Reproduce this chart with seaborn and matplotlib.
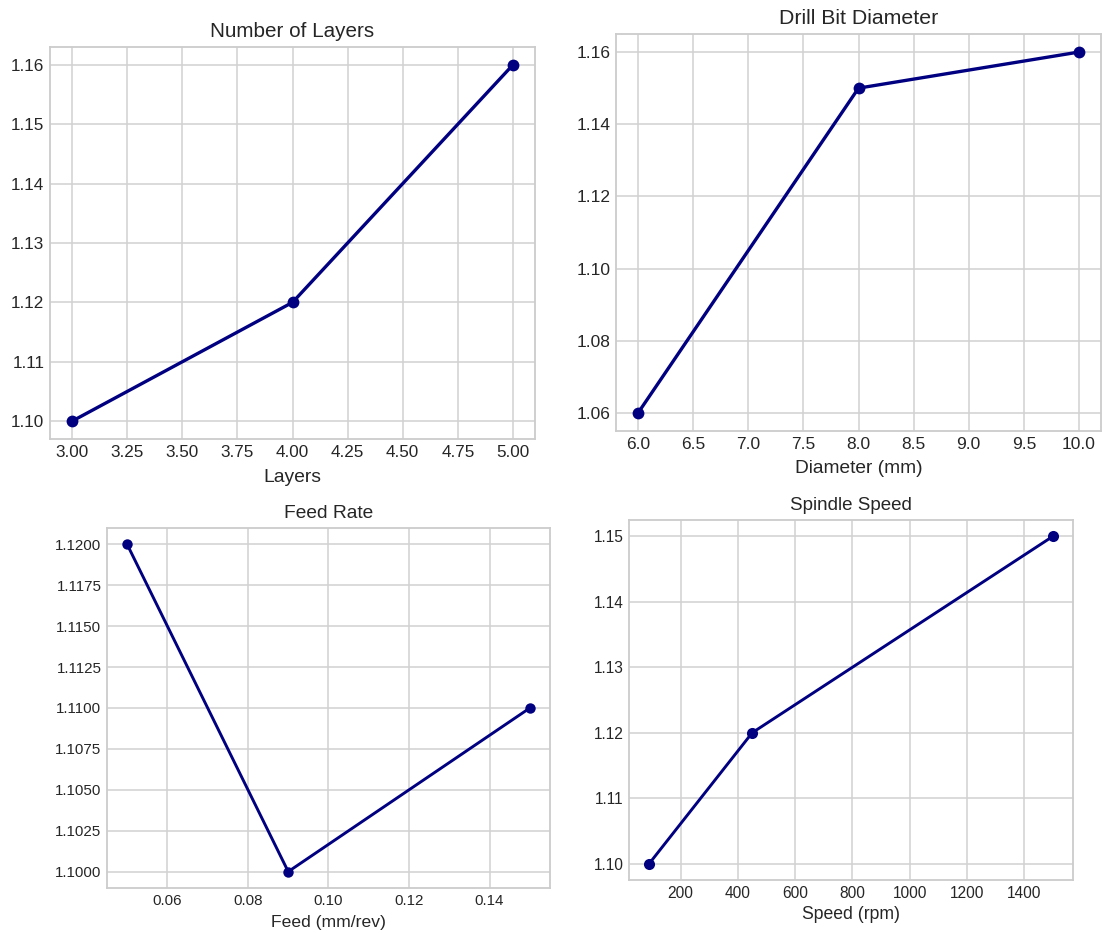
import matplotlib
matplotlib.use("Agg")
import matplotlib.pyplot as plt
from matplotlib.ticker import MultipleLocator, FormatStrFormatter
import seaborn as sns

# Response values for each machining parameter
layers = [3, 4, 5]
layers_resp = [1.10, 1.12, 1.16]

diameter_mm = [6, 8, 10]
diameter_resp = [1.06, 1.15, 1.16]

feed_mm_rev = [0.05, 0.09, 0.15]
feed_resp = [1.12, 1.10, 1.11]

speed_rpm = [90, 450, 1500]
speed_resp = [1.10, 1.12, 1.15]

titles = ["Number of Layers", "Drill Bit Diameter", "Feed Rate", "Spindle Speed"]
xlabels = ["Layers", "Diameter (mm)", "Feed (mm/rev)", "Speed (rpm)"]

sns.set_style("whitegrid", {"axes.edgecolor": ".8", "grid.color": ".8"})
plt.rcParams["font.family"] = ["Liberation Sans", "DejaVu Sans"]
plt.rcParams["text.color"] = ".15"
plt.rcParams["axes.labelcolor"] = ".15"
plt.rcParams["xtick.color"] = ".15"
plt.rcParams["ytick.color"] = ".15"

W, H = 1102, 933
fig = plt.figure(figsize=(W / 100, H / 100), dpi=100)


def add_panel(left, right, top, bottom):
    return fig.add_axes([left / W, 1 - bottom / H, (right - left) / W, (bottom - top) / H])


panels = [
    dict(box=(50, 535, 47, 439), x=layers, y=layers_resp, tick=12.3, title=14.9, label=13.9,
         lw=2.4, ms=8.5, lpad=7, xstep=0.25, xfmt="%.2f", ystep=0.01, yfmt="%.2f"),
    dict(box=(616, 1101, 34, 431), x=diameter_mm, y=diameter_resp, tick=12.5, title=15.3, label=13.8,
         lw=2.4, ms=8.5, lpad=6, xstep=0.5, xfmt="%.1f", ystep=0.02, yfmt="%.2f"),
    dict(box=(107, 550, 528, 888), x=feed_mm_rev, y=feed_resp, tick=10.9, title=13.8, label=12.6,
         lw=2.1, ms=7.5, lpad=5.5, xstep=0.02, xfmt="%.2f", ystep=0.0025, yfmt="%.4f"),
    dict(box=(629, 1073, 520, 880), x=speed_rpm, y=speed_resp, tick=11.2, title=13.5, label=12.7,
         lw=2.1, ms=8, lpad=4, xstep=200, xfmt="%d", ystep=0.01, yfmt="%.2f"),
]

for p, title, xlabel in zip(panels, titles, xlabels):
    ax = add_panel(*p["box"])
    sns.lineplot(x=p["x"], y=p["y"], ax=ax, color="navy", marker="o",
                 linewidth=p["lw"], markersize=p["ms"],
                 markeredgecolor="navy", markeredgewidth=0)
    ax.xaxis.set_major_locator(MultipleLocator(p["xstep"]))
    ax.xaxis.set_major_formatter(FormatStrFormatter(p["xfmt"]))
    ax.yaxis.set_major_locator(MultipleLocator(p["ystep"]))
    ax.yaxis.set_major_formatter(FormatStrFormatter(p["yfmt"]))
    ax.tick_params(labelsize=p["tick"], length=0, pad=4)
    ax.set_title(title, fontsize=p["title"], pad=7)
    ax.set_xlabel(xlabel, fontsize=p["label"], labelpad=p["lpad"])
    ax.set_ylabel("")
    for s in ax.spines.values():
        s.set_linewidth(1.3)
        s.set_color(".8")
    ax.grid(True, color=".82", linewidth=1.1)

fig.savefig("out.png", dpi=100)
